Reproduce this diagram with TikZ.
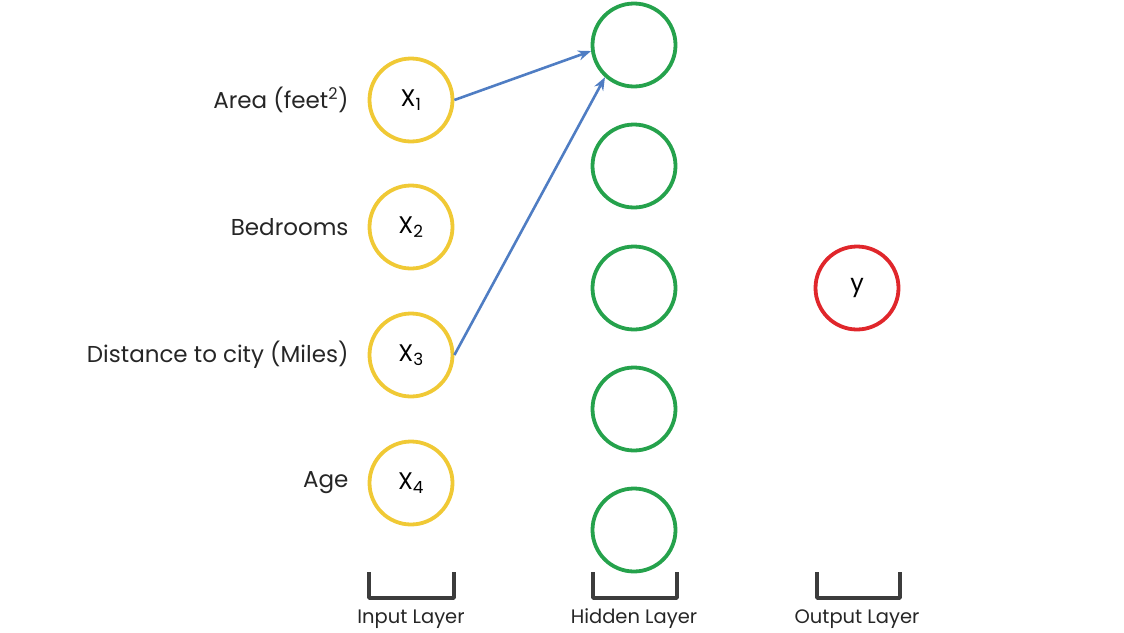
\documentclass[tikz,border=0pt]{standalone}
\usepackage{fontspec}
\setmainfont{Poppins}
\usepackage{tikz}
\usetikzlibrary{arrows.meta}

\definecolor{inyellow}{HTML}{F0C935}
\definecolor{hidgreen}{HTML}{25A24C}
\definecolor{outred}{HTML}{E0262B}
\definecolor{linkblue}{HTML}{4F7DC3}
\definecolor{brackgray}{HTML}{3C3C3C}

\tikzset{
  neuron/.style={circle, draw, line width=3.8pt, minimum size=83pt, inner sep=0pt, fill=white,
    font=\fontsize{24}{28}\selectfont},
  inneuron/.style={neuron, draw=inyellow},
  hidneuron/.style={neuron, draw=hidgreen},
  outneuron/.style={neuron, draw=outred},
  feature/.style={anchor=east, font=\fontsize{23}{27}\selectfont, text=black!85},
  layername/.style={font=\fontsize{19.5}{23}\selectfont, text=black!85},
  link/.style={-{Stealth[length=13pt,width=10pt]}, draw=linkblue, line width=2.6pt},
  brack/.style={draw=brackgray, line width=3.5pt, line join=round}
}

\begin{document}
\begin{tikzpicture}[x=1pt,y=-1pt]

 \useasboundingbox (0,0) rectangle (1124,632);

 % Input layer
 \node [inneuron] (x1) at (411,100) {X\textsubscript{1}};
 \node [inneuron] (x2) at (411,227) {X\textsubscript{2}};
 \node [inneuron] (x3) at (411,355) {X\textsubscript{3}};
 \node [inneuron] (x4) at (411,483) {X\textsubscript{4}};

 % Feature names
 \node [feature] (f1) at (352,100) {Area (feet\textsuperscript{2})};
 \node [feature] (f2) at (352,227) {Bedrooms};
 \node [feature] (f3) at (352,355) {Distance to city (Miles)};
 \node [feature] (f4) at (352,483) {Age};

 % Hidden layer
 \node [hidneuron] (h1) at (634,45) {};
 \node [hidneuron] (h2) at (634,166) {};
 \node [hidneuron] (h3) at (634,288) {};
 \node [hidneuron] (h4) at (634,409) {};
 \node [hidneuron] (h5) at (634,530) {};

 % Output layer
 \node [outneuron] (y) at (857,288) {y};

 % Weights into the first hidden unit
 \draw [link] (x1.east) -- (h1.188);
 \draw [link] (x3.east) -- (h1.228);

 % Brackets under each layer
 \draw [brack] (369,572) -- (369,598) -- (454,598) -- (454,572);
 \draw [brack] (593,572) -- (593,598) -- (677,598) -- (677,572);
 \draw [brack] (817,572) -- (817,598) -- (900,598) -- (900,572);

 \node [layername] (lin) at (411,619) {Input Layer};
 \node [layername] (lhid) at (634,619) {Hidden Layer};
 \node [layername] (lout) at (857,619) {Output Layer};

\end{tikzpicture}
\end{document}
